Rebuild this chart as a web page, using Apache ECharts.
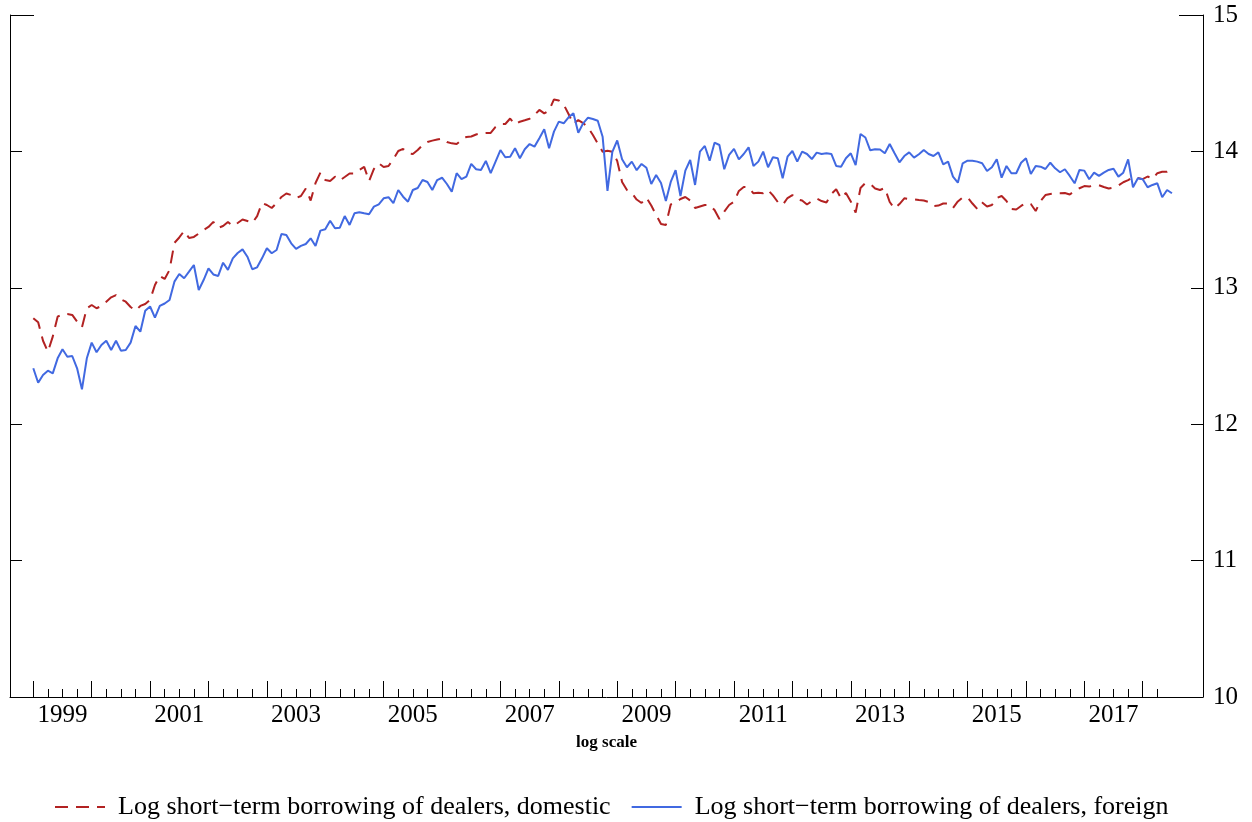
<!DOCTYPE html>
<html>
<head>
<meta charset="utf-8">
<script src="https://cdn.jsdelivr.net/npm/echarts@6/dist/echarts.min.js"></script>
<style>
html,body{margin:0;padding:0;background:#fff;}
#chart{width:1252px;height:822px;}
</style>
</head>
<body>
<div id="chart"></div>
<script>
// Monthly series, first observation July 1998
const startYear = 1998;
const startMonth = 7;
const seriesNames = [
  'Log short\u2212term borrowing of dealers, domestic',
  'Log short\u2212term borrowing of dealers, foreign'
];
const domestic = [
12.777,12.747,12.612,12.532,12.642,12.788,12.808,12.808,12.801,12.752,
12.711,12.850,12.874,12.850,12.867,12.898,12.930,12.947,12.916,12.898,
12.859,12.832,12.867,12.881,12.911,13.021,13.087,13.065,13.131,13.329,
13.369,13.417,13.365,13.373,13.398,13.424,13.446,13.483,13.439,13.453,
13.483,13.453,13.475,13.501,13.490,13.475,13.526,13.622,13.607,13.585,
13.622,13.666,13.691,13.680,13.658,13.673,13.728,13.640,13.768,13.844,
13.790,13.783,13.815,13.787,13.812,13.838,13.838,13.864,13.886,13.783,
13.871,13.913,13.886,13.893,13.944,14.003,14.018,13.986,13.981,14.010,
14.047,14.069,14.079,14.087,14.095,14.069,14.059,14.054,14.084,14.106,
14.109,14.124,14.133,14.135,14.135,14.179,14.201,14.201,14.241,14.197,
14.218,14.228,14.239,14.267,14.304,14.279,14.300,14.381,14.373,14.344,
14.274,14.201,14.230,14.208,14.175,14.120,14.058,13.998,14.005,13.998,
13.930,13.776,13.717,13.695,13.647,13.622,13.662,13.603,13.534,13.468,
13.461,13.611,13.625,13.651,13.666,13.640,13.585,13.596,13.607,13.607,
13.570,13.505,13.558,13.607,13.631,13.710,13.739,13.737,13.693,13.697,
13.693,13.717,13.677,13.629,13.607,13.658,13.680,13.649,13.640,13.611,
13.636,13.655,13.636,13.625,13.688,13.722,13.655,13.695,13.633,13.551,
13.732,13.768,13.761,13.728,13.717,13.732,13.629,13.581,13.614,13.656,
13.651,13.649,13.644,13.640,13.629,13.600,13.603,13.618,13.618,13.585,
13.633,13.662,13.662,13.618,13.578,13.625,13.596,13.607,13.658,13.673,
13.636,13.578,13.574,13.600,13.622,13.614,13.563,13.636,13.680,13.688,
13.693,13.693,13.695,13.684,13.710,13.730,13.746,13.743,13.749,13.752,
13.739,13.728,13.735,13.750,13.774,13.790,13.812,13.805,13.796,13.816,
13.798,13.840,13.851,13.851,13.864
];
const foreign = [
12.410,12.304,12.361,12.392,12.373,12.483,12.549,12.495,12.500,12.410,
12.256,12.483,12.598,12.527,12.581,12.612,12.544,12.612,12.539,12.544,
12.598,12.720,12.678,12.832,12.863,12.782,12.867,12.885,12.911,13.045,
13.101,13.070,13.118,13.167,12.984,13.057,13.143,13.098,13.087,13.184,
13.131,13.216,13.255,13.282,13.228,13.136,13.150,13.216,13.290,13.253,
13.277,13.395,13.387,13.326,13.285,13.307,13.321,13.363,13.307,13.419,
13.429,13.492,13.436,13.441,13.526,13.461,13.546,13.554,13.546,13.539,
13.595,13.612,13.656,13.664,13.620,13.717,13.668,13.631,13.717,13.732,
13.790,13.776,13.717,13.790,13.807,13.761,13.705,13.840,13.796,13.815,
13.908,13.869,13.864,13.930,13.840,13.925,14.010,13.957,13.961,14.023,
13.950,14.016,14.054,14.035,14.096,14.162,14.023,14.145,14.218,14.206,
14.250,14.279,14.137,14.206,14.247,14.238,14.225,14.108,13.710,13.996,
14.080,13.942,13.884,13.925,13.862,13.908,13.880,13.761,13.827,13.768,
13.636,13.776,13.862,13.673,13.859,13.937,13.754,13.998,14.040,13.932,
14.064,14.047,13.869,13.974,14.018,13.942,13.981,14.030,13.893,13.925,
13.998,13.884,13.957,13.950,13.803,13.961,14.003,13.925,13.998,13.981,
13.944,13.991,13.981,13.986,13.981,13.893,13.888,13.950,13.986,13.900,
14.128,14.102,14.008,14.016,14.014,13.986,14.054,13.986,13.920,13.966,
13.993,13.954,13.979,14.010,13.981,13.966,13.993,13.905,13.925,13.815,
13.771,13.913,13.932,13.932,13.925,13.913,13.856,13.884,13.942,13.807,
13.893,13.840,13.840,13.917,13.950,13.834,13.893,13.888,13.871,13.917,
13.876,13.847,13.869,13.820,13.766,13.864,13.859,13.796,13.844,13.820,
13.844,13.864,13.873,13.815,13.844,13.942,13.737,13.803,13.796,13.737,
13.754,13.766,13.664,13.717,13.693
];
const yearLabels = ['1999','2001','2003','2005','2007','2009','2011','2013','2015','2017'];
const yTickLabels = ['10','11','12','13','14','15'];

// ---- build chart ----
const t0 = startYear + (startMonth - 1) / 12;
const toPairs = arr => arr.map((v, i) => [t0 + i / 12, v]);
const XMIN = 1998.101, XMAX = 2018.532;
const majorTicks = [], minorTicks = [];
for (let j = 0; j <= 77; j++) {
  const v = 1998.5 + 0.25 * j;
  if (j % 4 === 0) majorTicks.push(v); else minorTicks.push(v);
}
const labelValues = yearLabels.map(Number);
const serif = "'Liberation Serif','Times New Roman',serif";
const YMIN = Number(yTickLabels[0]), YMAX = Number(yTickLabels[yTickLabels.length - 1]);

const chart = echarts.init(document.getElementById('chart'), null, {renderer: 'canvas'});
const blackLine = {color: '#000', width: 1};
chart.setOption({
  animation: false,
  backgroundColor: '#fff',
  grid: {left: 10, right: 49, top: 15, bottom: 125, containLabel: false},
  xAxis: [
    {
      type: 'value', min: XMIN, max: XMAX, position: 'bottom',
      axisLine: {show: true, lineStyle: blackLine},
      axisTick: {show: true, inside: true, length: 16, customValues: majorTicks, lineStyle: blackLine},
      axisLabel: {show: true, customValues: labelValues, formatter: v => yearLabels[labelValues.indexOf(Math.round(v))] || '',
                  fontFamily: serif, fontSize: 25, color: '#000', margin: 6},
      splitLine: {show: false},
      name: 'log scale', nameLocation: 'middle', nameGap: 37,
      nameTextStyle: {fontFamily: serif, fontWeight: 'bold', fontSize: 17, color: '#000'}
    },
    {
      type: 'value', min: XMIN, max: XMAX, position: 'bottom',
      axisLine: {show: false},
      axisTick: {show: true, inside: true, length: 8, customValues: minorTicks, lineStyle: blackLine},
      axisLabel: {show: false}, splitLine: {show: false}
    }
  ],
  yAxis: [
    {
      type: 'value', position: 'right', min: YMIN, max: YMAX, interval: 1,
      axisLine: {show: true, lineStyle: blackLine},
      axisTick: {show: true, inside: true, length: 12, lineStyle: blackLine},
      axisLabel: {show: true, fontFamily: serif, fontSize: 25, color: '#000', margin: 10},
      splitLine: {show: false}
    },
    {
      type: 'value', position: 'left', min: YMIN, max: YMAX, interval: 1,
      axisLine: {show: true, lineStyle: blackLine},
      axisTick: {show: true, inside: true, length: 12, lineStyle: blackLine},
      axisLabel: {show: false}, splitLine: {show: false}
    },
    {
      type: 'value', position: 'right', min: YMIN, max: YMAX,
      axisLine: {show: false},
      axisTick: {show: true, inside: true, length: 24, customValues: [YMAX], lineStyle: blackLine},
      axisLabel: {show: false}, splitLine: {show: false}
    },
    {
      type: 'value', position: 'left', min: YMIN, max: YMAX,
      axisLine: {show: false},
      axisTick: {show: true, inside: true, length: 24, customValues: [YMAX], lineStyle: blackLine},
      axisLabel: {show: false}, splitLine: {show: false}
    }
  ],
  legend: {
    top: 789, left: 49, itemWidth: 50, itemHeight: 14, itemGap: 20,
    itemStyle: {opacity: 0},
    textStyle: {fontFamily: serif, fontSize: 26, color: '#000', padding: [0, 0, 0, 8]},
    data: seriesNames
  },
  series: [
    {
      name: seriesNames[0], type: 'line', data: toPairs(domestic), xAxisIndex: 0, yAxisIndex: 0,
      showSymbol: false, symbol: 'none',
      lineStyle: {color: '#B22222', width: 2, type: [13, 8]}, itemStyle: {color: '#B22222'}
    },
    {
      name: seriesNames[1], type: 'line', data: toPairs(foreign), xAxisIndex: 0, yAxisIndex: 0,
      showSymbol: false, symbol: 'none',
      lineStyle: {color: '#4169E1', width: 2, type: 'solid'}, itemStyle: {color: '#4169E1'}
    }
  ]
});
</script>
</body>
</html>
